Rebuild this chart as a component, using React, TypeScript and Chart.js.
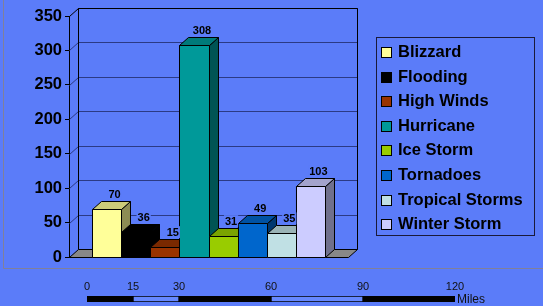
import React, { useEffect, useRef } from "react";
import { Chart, registerables } from "chart.js";

Chart.register(...registerables);

// ---------- data ----------
const categories = [
  "Blizzard",
  "Flooding",
  "High Winds",
  "Hurricane",
  "Ice Storm",
  "Tornadoes",
  "Tropical Storms",
  "Winter Storm",
];
const values = [70, 36, 15, 308, 31, 49, 35, 103];
const yTicks = [0, 50, 100, 150, 200, 250, 300, 350];
const scaleTicks = [0, 15, 30, 60, 90, 120];
const scaleUnit = "Miles";

// ---------- styles ----------
const BG = "#5B7CF9";
const frontColors = [
  "#FFFF99",
  "#000000",
  "#993300",
  "#009999",
  "#99CC00",
  "#0066CC",
  "#C0E0E4",
  "#CCCCFF",
];
const FONT = "Arial, 'Liberation Sans', sans-serif";
const DX = 9;
const DY = -8;

function shade(hex: string, f: number): string {
  const n = parseInt(hex.slice(1), 16);
  const r = Math.round(((n >> 16) & 255) * f);
  const g = Math.round(((n >> 8) & 255) * f);
  const b = Math.round((n & 255) * f);
  return `rgb(${r},${g},${b})`;
}

function poly(ctx: CanvasRenderingContext2D, pts: number[][], fill: string, stroke: string) {
  ctx.beginPath();
  ctx.moveTo(pts[0][0], pts[0][1]);
  for (let i = 1; i < pts.length; i++) ctx.lineTo(pts[i][0], pts[i][1]);
  ctx.closePath();
  if (fill) {
    ctx.fillStyle = fill;
    ctx.fill();
  }
  if (stroke) {
    ctx.strokeStyle = stroke;
    ctx.lineWidth = 1;
    ctx.stroke();
  }
}

const threeDPlugin = {
  id: "threeD",
  beforeDraw(chart: any) {
    const { ctx, width, height } = chart;
    ctx.save();
    ctx.fillStyle = BG;
    ctx.fillRect(0, 0, width, height);
    // outer frame
    ctx.strokeStyle = "#80809A";
    ctx.lineWidth = 1;
    ctx.beginPath();
    ctx.moveTo(3.5, 0);
    ctx.lineTo(3.5, 268.5);
    ctx.lineTo(width, 268.5);
    ctx.stroke();
    ctx.restore();
  },
  beforeDatasetsDraw(chart: any) {
    const { ctx, chartArea } = chart;
    const y = chart.scales.y;
    const L = Math.round(chartArea.left) + 0.5;
    const R = Math.round(chartArea.right) + 0.5;
    const T = Math.round(y.getPixelForValue(yTicks[yTicks.length - 1])) + 0.5;
    const B = Math.round(y.getPixelForValue(0)) + 0.5;
    ctx.save();
    // floor
    poly(ctx, [[L, B], [R, B], [R + DX, B + DY], [L + DX, B + DY]], "#888888", "#000");
    // gridlines on side + back wall
    yTicks.forEach((v) => {
      if (v === 0) return;
      const py = Math.round(y.getPixelForValue(v)) + 0.5;
      ctx.beginPath();
      ctx.moveTo(L, py);
      ctx.lineTo(L + DX, py + DY);
      ctx.lineTo(R + DX, py + DY);
      ctx.strokeStyle = v === yTicks[yTicks.length - 1] ? "#000" : "#2B3A85";
      ctx.lineWidth = 1;
      ctx.stroke();
    });
    // walls outline
    ctx.beginPath();
    ctx.moveTo(L + DX, B + DY);
    ctx.lineTo(L + DX, T + DY);
    ctx.lineTo(R + DX, T + DY);
    ctx.lineTo(R + DX, B + DY);
    ctx.strokeStyle = "#000";
    ctx.stroke();
    ctx.restore();
  },
  afterDatasetsDraw(chart: any) {
    const { ctx } = chart;
    ctx.save();
    const metas = chart.getSortedVisibleDatasetMetas().slice().sort((a: any, b: any) => a.index - b.index);
    const boxes: any[] = [];
    metas.forEach((meta: any) => {
      const el = meta.data[0];
      const i = meta.index;
      const l = Math.round(el.x - el.width / 2) + 0.5;
      const r = Math.round(el.x + el.width / 2) + 0.5;
      const t = Math.round(el.y) + 0.5;
      const b = Math.round(el.base) + 0.5;
      const c = frontColors[i];
      // side
      poly(ctx, [[r, t], [r + DX, t + DY], [r + DX, b + DY], [r, b]], shade(c, 0.55), "#000");
      // top
      poly(ctx, [[l, t], [l + DX, t + DY], [r + DX, t + DY], [r, t]], shade(c, 0.8), "#000");
      // front
      poly(ctx, [[l, t], [r, t], [r, b], [l, b]], c, "#000");
      boxes.push({ x: el.x + 8, y: el.y - 14.5, text: String(values[i]) });
    });
    ctx.font = `bold 11px ${FONT}`;
    ctx.textAlign = "center";
    ctx.textBaseline = "middle";
    boxes.forEach((bx) => {
      const w = ctx.measureText(bx.text).width;
      ctx.fillStyle = BG;
      ctx.fillRect(bx.x - w / 2 - 1, bx.y - 6, w + 2, 12);
      ctx.fillStyle = "#000";
      ctx.fillText(bx.text, bx.x, bx.y + 0.5);
    });
    ctx.restore();
  },
  afterDraw(chart: any) {
    const { ctx, chartArea } = chart;
    ctx.save();
    const x0 = Math.round(chartArea.right) + 28 + 0.5;
    const y0 = 37.5;
    const w = 158;
    const h = 198;
    ctx.strokeStyle = "#1A1A3A";
    ctx.lineWidth = 1;
    ctx.strokeRect(x0, y0, w, h);
    ctx.font = `bold 16.5px ${FONT}`;
    ctx.textAlign = "left";
    ctx.textBaseline = "middle";
    categories.forEach((name, i) => {
      const cy = 52 + i * 24.6;
      const sy = Math.round(cy - 5) + 0.5;
      ctx.fillStyle = frontColors[i];
      ctx.fillRect(x0 + 5, sy, 10, 10);
      ctx.strokeStyle = "#000";
      ctx.strokeRect(x0 + 5, sy, 10, 10);
      ctx.fillStyle = "#000";
      ctx.fillText(name, x0 + 21.5, cy + 0.5);
    });
    ctx.restore();
  },
};

const milesPlugin = {
  id: "miles",
  beforeDraw(chart: any) {
    const { ctx, width, height } = chart;
    ctx.save();
    ctx.fillStyle = BG;
    ctx.fillRect(0, 0, width, height);
    ctx.restore();
  },
  afterDraw(chart: any) {
    const { ctx, chartArea } = chart;
    const xs = chart.scales.x;
    ctx.save();
    ctx.font = `12px ${FONT}`;
    ctx.fillStyle = "#111";
    ctx.textAlign = "left";
    ctx.textBaseline = "middle";
    ctx.fillText(scaleUnit, xs.getPixelForValue(scaleTicks[scaleTicks.length - 1]) + 2, (chartArea.top + chartArea.bottom) / 2 + 1);
    ctx.restore();
  },
};

export default function App() {
  const mainRef = useRef<HTMLCanvasElement>(null);
  const scaleRef = useRef<HTMLCanvasElement>(null);

  useEffect(() => {
    const main = new Chart(mainRef.current as HTMLCanvasElement, {
      type: "bar",
      data: {
        labels: ["Events"],
        datasets: categories.map((name, i) => ({
          label: name,
          data: [values[i]],
          backgroundColor: frontColors[i],
          borderColor: "#000",
          borderWidth: 1,
          categoryPercentage: 0.835,
          barPercentage: 1,
        })),
      },
      options: {
        animation: false,
        responsive: false,
        events: [],
        layout: { padding: { left: 0, top: 16, right: 195, bottom: 13 } },
        plugins: { legend: { display: false }, tooltip: { enabled: false } },
        scales: {
          x: { display: false },
          y: {
            min: 0,
            max: 350,
            afterBuildTicks: (s: any) => {
              s.ticks = yTicks.map((v) => ({ value: v }));
            },
            afterFit: (s: any) => {
              s.width = 69;
            },
            ticks: {
              color: "#000",
              padding: 3,
              font: { family: FONT, size: 16.5, weight: "bold" },
            },
            grid: { drawOnChartArea: false, color: "#000", tickLength: 4 },
            border: { color: "#000", width: 1 },
          },
        },
      },
      plugins: [threeDPlugin],
    } as any);

    const segs = scaleTicks.slice(1).map((v, i) => [scaleTicks[i], v]);
    const scale = new Chart(scaleRef.current as HTMLCanvasElement, {
      type: "bar",
      data: {
        labels: ["scale"],
        datasets: segs.map((s, i) => ({
          data: [s],
          backgroundColor: i % 2 === 0 ? "#000000" : "#6688FF",
          borderColor: "#000",
          borderWidth: 1,
          borderSkipped: false,
          grouped: false,
          barPercentage: 1,
          categoryPercentage: 1,
        })),
      },
      options: {
        indexAxis: "y",
        animation: false,
        responsive: false,
        events: [],
        layout: { padding: { left: 87, right: 88, top: 0, bottom: 4 } },
        plugins: { legend: { display: false }, tooltip: { enabled: false } },
        scales: {
          x: {
            type: "linear",
            position: "top",
            min: 0,
            max: 120,
            afterBuildTicks: (s: any) => {
              s.ticks = scaleTicks.map((v) => ({ value: v }));
            },
            afterFit: (s: any) => {
              s.height = 26;
            },
            ticks: {
              color: "#111",
              padding: 2,
              autoSkip: false,
              maxRotation: 0,
              font: { family: FONT, size: 11 },
            },
            grid: { display: false, drawTicks: false },
            border: { display: false },
          },
          y: { display: false },
        },
      },
      plugins: [milesPlugin],
    } as any);

    return () => {
      main.destroy();
      scale.destroy();
    };
  }, []);

  return (
    <div style={{ position: "absolute", left: 0, top: 0, width: 543, height: 306, background: BG, overflow: "hidden" }}>
      <canvas ref={mainRef} width={543} height={270} style={{ position: "absolute", left: 0, top: 0, width: 543, height: 270 }} />
      <canvas ref={scaleRef} width={543} height={36} style={{ position: "absolute", left: 0, top: 270, width: 543, height: 36 }} />
    </div>
  );
}
